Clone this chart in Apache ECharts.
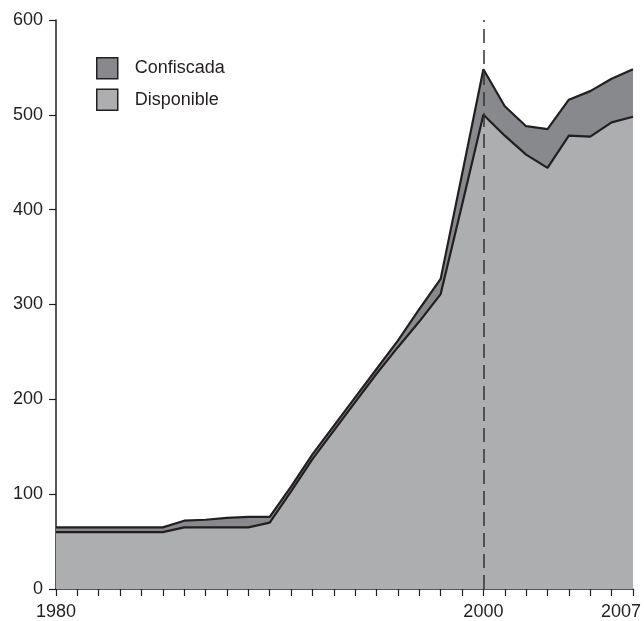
<!DOCTYPE html>
<html>
<head>
<meta charset="utf-8">
<script src="https://cdn.jsdelivr.net/npm/echarts@6/dist/echarts.min.js"></script>
<style>
html,body{margin:0;padding:0;background:#fff;}
#chart{width:644px;height:621px;}
</style>
</head>
<body>
<div id="chart"></div>
<script>
var years = ['1980','1981','1982','1983','1984','1985','1986','1987','1988','1989','1990','1991','1992','1993','1994','1995','1996','1997','1998','1999','2000','2001','2002','2003','2004','2005','2006','2007'];
var disponible = [60,60,60,60,60,60,65,65,65,65,70,103,137,167,197,227,255,282,311,405,500,478,458,444,478,477,492,498];
var confiscada = [5,5,5,5,5,5,7,8,10,11,6,5,5,5,5,5,7,13,16,32,48,31,30,41,38,48,46,50];
var xLabels = ['1980', '2000', '2007'];
var yTicks = [0,100,200,300,400,500,600];
var markYear = '2000';

var chart = echarts.init(document.getElementById('chart'));
var font = '"Liberation Sans", Arial, Helvetica, sans-serif';
chart.setOption({
  animation: false,
  grid: {left: 56, right: 10, top: 20, bottom: 30},
  legend: {
    orient: 'vertical', left: 96, top: 57, padding: 0,
    data: ['Confiscada','Disponible'],
    icon: 'rect', itemWidth: 21, itemHeight: 21, itemGap: 9,
    itemStyle: {borderColor: '#231f20', borderWidth: 1.5},
    textStyle: {fontFamily: font, fontSize: 18, color: '#231f20', padding: [0,0,0,12]}
  },
  xAxis: {
    type: 'category', data: years, boundaryGap: false,
    splitLine: {show: false},
    axisLine: {lineStyle: {color: '#231f20', width: 1.5}},
    axisTick: {show: true, interval: 0, length: 7, lineStyle: {color: '#231f20', width: 1.2}},
    axisLabel: {
      interval: 0, margin: 14, fontFamily: font, fontSize: 18, color: '#231f20',
      formatter: function(v){
        if (xLabels.indexOf(v) < 0) return '';
        if (v === years[years.length-1]) return '{last|' + v + '}';
        return v;
      },
      rich: {last: {fontFamily: font, fontSize: 18, color: '#231f20', padding: [0,24,0,0]}}
    }
  },
  yAxis: {
    type: 'value', min: yTicks[0], max: yTicks[yTicks.length-1], interval: 100,
    splitLine: {show: false},
    axisLine: {show: true, lineStyle: {color: '#231f20', width: 1.5}},
    axisTick: {show: true, length: 7, lineStyle: {color: '#231f20', width: 1.2}},
    axisLabel: {margin: 13, fontFamily: font, fontSize: 18, color: '#231f20'}
  },
  series: [
    {
      name: 'Disponible', type: 'line', stack: 'total', data: disponible,
      showSymbol: false, symbol: 'none',
      itemStyle: {color: '#adaeb0'},
      lineStyle: {color: '#231f20', width: 2.2},
      areaStyle: {color: '#adaeb0', opacity: 1}
    },
    {
      name: 'Confiscada', type: 'line', stack: 'total', data: confiscada,
      showSymbol: false, symbol: 'none',
      itemStyle: {color: '#88898c'},
      lineStyle: {color: '#231f20', width: 2.2},
      areaStyle: {color: '#88898c', opacity: 1},
      markLine: {
        silent: true, symbol: 'none', z: 10,
        label: {show: false},
        lineStyle: {color: '#333333', width: 1.5, type: [14, 7]},
        data: [{xAxis: markYear}]
      }
    }
  ]
});
</script>
</body>
</html>
